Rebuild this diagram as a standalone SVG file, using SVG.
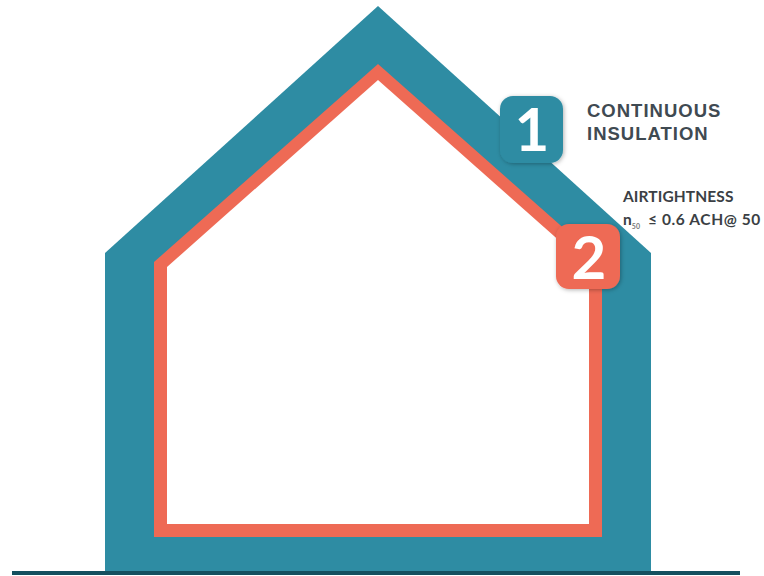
<svg xmlns="http://www.w3.org/2000/svg" width="764" height="576" viewBox="0 0 764 576">
<defs>
<filter id="soft" x="-20%" y="-20%" width="140%" height="140%"><feDropShadow dx="1" dy="1" stdDeviation="2" flood-color="#000" flood-opacity="0.3"/></filter>
<style>
.num{font-family:Lato,"Open Sans","Liberation Sans",sans-serif;font-weight:700;font-size:60px;fill:#fff;text-anchor:middle}
.t1{font-family:"Liberation Sans",Arial,sans-serif;font-weight:700;font-size:18.5px;fill:#3f4a52;letter-spacing:1px}
.t2{font-family:Lato,"Open Sans","Liberation Sans",sans-serif;font-weight:700;font-size:15.5px;fill:#3b3f44;letter-spacing:.1px}
.wide{letter-spacing:.6px}
.sub{font-size:7px;fill:#777}
</style>
</defs>
<rect width="764" height="576" fill="#fff"/>
<g id="house">
<path d="M378 6L651 253V572H105V253Z" fill="#2e8ca3"/>
<path d="M378 64L602 262V537H154V262Z" fill="#ee6a55"/>
<path d="M378 80L589 267V524H167V267Z" fill="#fff"/>
</g>
<g id="ground"><rect x="12" y="571" width="728" height="4" fill="#14505f"/></g>
<g id="badge1">
<rect x="500" y="96" width="63" height="67" rx="13" fill="#2e8ca3" filter="url(#soft)"/>
<text class="num" x="532" y="151">1</text>
</g>
<g id="badge2">
<rect x="556" y="224" width="64" height="65" rx="13" fill="#ee6a55" filter="url(#soft)"/>
<text class="num" x="589" y="279">2</text>
</g>
<g id="label1">
<text class="t1" x="587" y="117">CONTINUOUS</text>
<text class="t1" x="587" y="140">INSULATION</text>
</g>
<g id="label2">
<text class="t2" x="623" y="202">AIRTIGHTNESS</text>
<text class="t2" x="623" y="225">n<tspan class="sub" dy="4">50</tspan><tspan class="wide" x="648" dy="-4">≤ 0.6 ACH@ 50</tspan></text>
</g>
</svg>
